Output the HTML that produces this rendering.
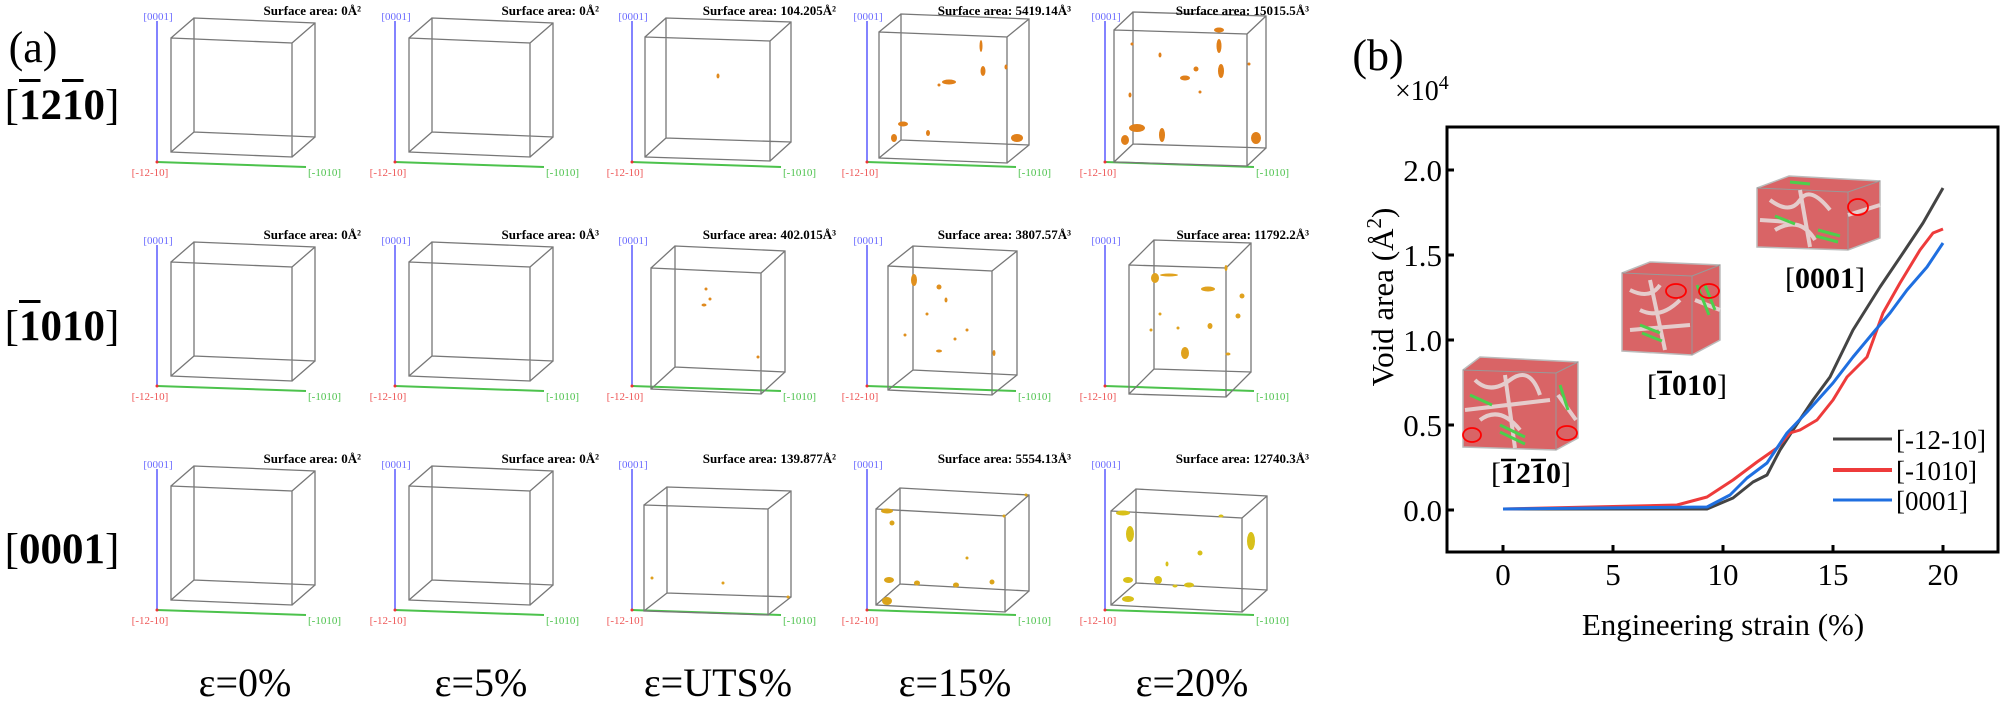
<!DOCTYPE html>
<html><head><meta charset="utf-8"><style>
html,body{margin:0;padding:0;background:#fff;}
#w{position:relative;width:2002px;height:703px;overflow:hidden;font-family:"Liberation Serif","DejaVu Serif",serif;}
.rl{position:absolute;left:0;width:124px;text-align:center;font-family:"Liberation Serif",serif;font-weight:bold;font-size:43px;line-height:43px;}
.rl .b{font-weight:normal}
.ov{text-decoration:overline;text-decoration-thickness:3px}
svg{position:absolute;left:0;top:0;}
text,tspan{font-family:"Liberation Serif","DejaVu Serif",serif !important;}
</style></head><body><div id="w">
<svg width="2002" height="703" viewBox="0 0 2002 703" style="font-family:'Liberation Serif','DejaVu Serif',serif" font-family="'Liberation Serif', 'DejaVu Serif', serif">
<defs>
<g id="ax">
<line x1="0" y1="21" x2="0" y2="162" stroke="#5a5aff" stroke-width="1.5"/>
<line x1="0" y1="162" x2="149" y2="167" stroke="#4cc24c" stroke-width="2"/>
<circle cx="0" cy="162" r="1.5" fill="#e33"/>
<text x="1" y="20" font-size="11" fill="#6a6aff" text-anchor="middle">[0001]</text>
<text x="-7" y="176" font-size="11" fill="#ee5555" text-anchor="middle">[-12-10]</text>
<text x="151" y="176" font-size="11" fill="#4cc24c">[-1010]</text>
</g>
<g id="cD" fill="none" stroke="#777" stroke-width="1.3"><path d="M14 38L135 43L135 157L14 152Z M37 18L158 23L158 137L37 132Z M14 38l23 -20M135 43l23 -20M135 157l23 -20M14 152l23 -20"/></g>
</defs>
<text x="33" y="62" font-size="44" text-anchor="middle">(a)</text>

<!-- row 1 -->
<g transform="translate(157,0)"><use href="#ax"/><use href="#cD"/><text x="204" y="15" font-size="13" font-weight="bold" text-anchor="end">Surface area: 0Å²</text></g>
<g transform="translate(395,0)"><use href="#ax"/><use href="#cD"/><text x="204" y="15" font-size="13" font-weight="bold" text-anchor="end">Surface area: 0Å²</text></g>
<g transform="translate(632,0)"><use href="#ax"/>
<path fill="none" stroke="#777" stroke-width="1.3" d="M13 37L138 41L138 161L13 157Z M34 18L159 22L159 142L34 138Z M13 37l21 -19M138 41l21 -19M138 161l21 -19M13 157l21 -19"/>
<ellipse cx="86" cy="76" rx="1.5" ry="2.5" fill="#e08a1e"/>
<text x="204" y="15" font-size="13" font-weight="bold" text-anchor="end">Surface area: 104.205Å²</text></g>
<g transform="translate(867,0)"><use href="#ax"/>
<path fill="none" stroke="#777" stroke-width="1.3" d="M12 32L140 37L140 163L12 158Z M34 14L162 19L162 145L34 140Z M12 32l22 -18M140 37l22 -18M140 163l22 -18M12 158l22 -18"/>
<g fill="#e0801a"><ellipse cx="82" cy="82" rx="7" ry="2.5"/><ellipse cx="114" cy="46" rx="1.5" ry="6"/><ellipse cx="116" cy="71" rx="2.5" ry="5"/><ellipse cx="36" cy="124" rx="5" ry="2.5"/><ellipse cx="27" cy="138" rx="3" ry="4"/><ellipse cx="150" cy="138" rx="6" ry="4"/><ellipse cx="139" cy="67" rx="1.5" ry="2.5"/><ellipse cx="61" cy="133" rx="2" ry="3"/><ellipse cx="72" cy="85" rx="1.5" ry="1.5"/></g>
<text x="204" y="15" font-size="13" font-weight="bold" text-anchor="end">Surface area: 5419.14Å³</text></g>
<g transform="translate(1105,0)"><use href="#ax"/>
<path fill="none" stroke="#777" stroke-width="1.3" d="M9 30L142 34L142 166L9 162Z M28 12L161 16L161 148L28 144Z M9 30l19 -18M142 34l19 -18M142 166l19 -18M9 162l19 -18"/>
<g fill="#e0801a"><ellipse cx="114" cy="30" rx="5" ry="2.5"/><ellipse cx="114" cy="46" rx="2.5" ry="7"/><ellipse cx="116" cy="71" rx="3" ry="7"/><ellipse cx="80" cy="78" rx="5" ry="2.5"/><ellipse cx="91" cy="69" rx="2.5" ry="2.5"/><ellipse cx="32" cy="128" rx="8" ry="4"/><ellipse cx="20" cy="140" rx="4" ry="5"/><ellipse cx="57" cy="135" rx="3" ry="7"/><ellipse cx="151" cy="138" rx="5" ry="6"/><ellipse cx="27" cy="44" rx="1.5" ry="1.5"/><ellipse cx="55" cy="55" rx="1.5" ry="2.5"/><ellipse cx="144" cy="64" rx="1.5" ry="1.5"/><ellipse cx="25" cy="95" rx="1.5" ry="2.5"/><ellipse cx="95" cy="92" rx="1.5" ry="1.5"/></g>
<text x="204" y="15" font-size="13" font-weight="bold" text-anchor="end">Surface area: 15015.5Å³</text></g>

<!-- row 2 -->
<g transform="translate(157,224)"><use href="#ax"/><use href="#cD"/><text x="204" y="15" font-size="13" font-weight="bold" text-anchor="end">Surface area: 0Å²</text></g>
<g transform="translate(395,224)"><use href="#ax"/><use href="#cD"/><text x="204" y="15" font-size="13" font-weight="bold" text-anchor="end">Surface area: 0Å³</text></g>
<g transform="translate(632,224)"><use href="#ax"/>
<path fill="none" stroke="#777" stroke-width="1.3" d="M19 44L129 49L129 170L19 165Z M43 22L153 27L153 148L43 143Z M19 44l24 -22M129 49l24 -22M129 170l24 -22M19 165l24 -22"/>
<g fill="#e08a1e"><ellipse cx="72" cy="81" rx="2.5" ry="1.5"/><ellipse cx="74" cy="65" rx="1.5" ry="1.5"/><ellipse cx="78" cy="75" rx="1.5" ry="1.5"/><ellipse cx="126" cy="133" rx="1.5" ry="1.5"/></g>
<text x="204" y="15" font-size="13" font-weight="bold" text-anchor="end">Surface area: 402.015Å³</text></g>
<g transform="translate(867,224)"><use href="#ax"/>
<path fill="none" stroke="#777" stroke-width="1.3" d="M21 42L125 47L125 171L21 166Z M46 22L150 27L150 151L46 146Z M21 42l25 -20M125 47l25 -20M125 171l25 -20M21 166l25 -20"/>
<g fill="#e0901e"><ellipse cx="47" cy="56" rx="3" ry="6"/><ellipse cx="72" cy="63" rx="2.5" ry="2.5"/><ellipse cx="79" cy="76" rx="1.5" ry="2.5"/><ellipse cx="72" cy="127" rx="3" ry="1.5"/><ellipse cx="127" cy="129" rx="1.5" ry="3"/><ellipse cx="38" cy="111" rx="1.5" ry="1.5"/><ellipse cx="100" cy="106" rx="1.5" ry="1.5"/><ellipse cx="60" cy="90" rx="1.5" ry="1.5"/><ellipse cx="88" cy="115" rx="1.5" ry="1.5"/></g>
<text x="204" y="15" font-size="13" font-weight="bold" text-anchor="end">Surface area: 3807.57Å³</text></g>
<g transform="translate(1105,224)"><use href="#ax"/>
<path fill="none" stroke="#777" stroke-width="1.3" d="M24 41L121 44L121 173L24 170Z M49 16L146 19L146 148L49 145Z M24 41l25 -25M121 44l25 -25M121 173l25 -25M24 170l25 -25"/>
<g fill="#e0a21e"><ellipse cx="50" cy="54" rx="4" ry="5"/><ellipse cx="64" cy="51" rx="9" ry="1.5"/><ellipse cx="103" cy="65" rx="7" ry="2.5"/><ellipse cx="105" cy="102" rx="2.5" ry="3"/><ellipse cx="80" cy="129" rx="4" ry="6"/><ellipse cx="137" cy="72" rx="2.5" ry="2.5"/><ellipse cx="133" cy="92" rx="2.5" ry="2.5"/><ellipse cx="121" cy="44" rx="1.5" ry="3"/><ellipse cx="46" cy="106" rx="1.5" ry="1.5"/><ellipse cx="73" cy="104" rx="1.5" ry="1.5"/><ellipse cx="123" cy="130" rx="2.5" ry="1.5"/><ellipse cx="55" cy="90" rx="1.5" ry="1.5"/></g>
<text x="204" y="15" font-size="13" font-weight="bold" text-anchor="end">Surface area: 11792.2Å³</text></g>

<!-- row 3 -->
<g transform="translate(157,448)"><use href="#ax"/><use href="#cD"/><text x="204" y="15" font-size="13" font-weight="bold" text-anchor="end">Surface area: 0Å²</text></g>
<g transform="translate(395,448)"><use href="#ax"/><use href="#cD"/><text x="204" y="15" font-size="13" font-weight="bold" text-anchor="end">Surface area: 0Å²</text></g>
<g transform="translate(632,448)"><use href="#ax"/>
<path fill="none" stroke="#777" stroke-width="1.3" d="M12 57L136 61L136 167L12 163Z M35 39L159 43L159 149L35 145Z M12 57l23 -18M136 61l23 -18M136 167l23 -18M12 163l23 -18"/>
<g fill="#e0a01e"><ellipse cx="20" cy="130" rx="1.5" ry="1.5"/><ellipse cx="91" cy="135" rx="1.5" ry="1.5"/><ellipse cx="156" cy="149" rx="1.5" ry="1.5"/></g>
<text x="204" y="15" font-size="13" font-weight="bold" text-anchor="end">Surface area: 139.877Å²</text></g>
<g transform="translate(867,448)"><use href="#ax"/>
<path fill="none" stroke="#777" stroke-width="1.3" d="M9 61L138 68L138 164L9 157Z M33 40L162 47L162 143L33 136Z M9 61l24 -21M138 68l24 -21M138 164l24 -21M9 157l24 -21"/>
<g fill="#dba41a"><ellipse cx="20" cy="63" rx="6" ry="2.5"/><ellipse cx="22" cy="132" rx="5" ry="3"/><ellipse cx="20" cy="153" rx="5" ry="4"/><ellipse cx="50" cy="135" rx="3" ry="2.5"/><ellipse cx="89" cy="137" rx="3" ry="2.5"/><ellipse cx="125" cy="134" rx="2.5" ry="2.5"/><ellipse cx="137" cy="68" rx="1.5" ry="1.5"/><ellipse cx="159" cy="47" rx="1.5" ry="1.5"/><ellipse cx="25" cy="75" rx="2.5" ry="2.5"/><ellipse cx="100" cy="110" rx="1.5" ry="1.5"/></g>
<text x="204" y="15" font-size="13" font-weight="bold" text-anchor="end">Surface area: 5554.13Å³</text></g>
<g transform="translate(1105,448)"><use href="#ax"/>
<path fill="none" stroke="#777" stroke-width="1.3" d="M6 63L137 70L137 164L6 157Z M31 41L162 48L162 142L31 135Z M6 63l25 -22M137 70l25 -22M137 164l25 -22M6 157l25 -22"/>
<g fill="#d8c01a"><ellipse cx="25" cy="86" rx="4" ry="8"/><ellipse cx="18" cy="65" rx="7" ry="2.5"/><ellipse cx="146" cy="93" rx="4" ry="9"/><ellipse cx="23" cy="132" rx="5" ry="3"/><ellipse cx="23" cy="151" rx="6" ry="3"/><ellipse cx="53" cy="132" rx="4" ry="4"/><ellipse cx="84" cy="137" rx="5" ry="2.5"/><ellipse cx="62" cy="116" rx="1.5" ry="2.5"/><ellipse cx="116" cy="68" rx="2.5" ry="1.5"/><ellipse cx="95" cy="105" rx="2.5" ry="2.5"/><ellipse cx="70" cy="138" rx="2.5" ry="1.5"/></g>
<text x="204" y="15" font-size="13" font-weight="bold" text-anchor="end">Surface area: 12740.3Å³</text></g>

<!-- bottom labels -->
<g font-size="40" text-anchor="middle">
<text x="245" y="696">ε=0%</text><text x="481" y="696">ε=5%</text><text x="718" y="696">ε=UTS%</text><text x="955" y="696">ε=15%</text><text x="1192" y="696">ε=20%</text>
</g>

<!-- panel b -->
<text x="1378" y="70" font-size="44" text-anchor="middle">(b)</text>
<text x="1395" y="100" font-size="28">×10<tspan font-size="20" dy="-11">4</tspan></text>
<text transform="translate(1393,297) rotate(-90)" font-size="31" text-anchor="middle">Void area (Å<tspan font-size="21" dy="-12">2</tspan><tspan dy="12">)</tspan></text>
<rect x="1447" y="127" width="551" height="425" fill="none" stroke="#000" stroke-width="3"/>
<g stroke="#000" stroke-width="3">
<line x1="1447" y1="170" x2="1454" y2="170"/><line x1="1447" y1="255" x2="1454" y2="255"/><line x1="1447" y1="340" x2="1454" y2="340"/><line x1="1447" y1="425" x2="1454" y2="425"/><line x1="1447" y1="510" x2="1454" y2="510"/>
<line x1="1503" y1="552" x2="1503" y2="545"/><line x1="1613" y1="552" x2="1613" y2="545"/><line x1="1723" y1="552" x2="1723" y2="545"/><line x1="1833" y1="552" x2="1833" y2="545"/><line x1="1943" y1="552" x2="1943" y2="545"/>
</g>
<g font-size="31" text-anchor="end">
<text x="1442" y="181">2.0</text><text x="1442" y="266">1.5</text><text x="1442" y="351">1.0</text><text x="1442" y="436">0.5</text><text x="1442" y="521">0.0</text>
</g>
<g font-size="31" text-anchor="middle">
<text x="1503" y="585">0</text><text x="1613" y="585">5</text><text x="1723" y="585">10</text><text x="1833" y="585">15</text><text x="1943" y="585">20</text>
<text x="1723" y="635">Engineering strain (%)</text>
</g>

<!-- insets -->
<g>
<polygon points="1757,188 1789,176 1880,181 1880,238 1848,250 1757,247" fill="#d96466" stroke="#bbb" stroke-width="1.5"/>
<polyline points="1757,188 1848,192 1880,181" fill="none" stroke="#999"/>
<line x1="1848" y1="192" x2="1848" y2="250" stroke="#999"/>
<path d="M1770 200 Q1790 215 1800 200 T1830 210 M1775 230 Q1800 215 1815 240 M1800 190 L1810 247 M1848 215 L1880 205 M1760 220 L1790 222" stroke="#e6dede" stroke-width="4" fill="none" opacity="0.85"/>
<path d="M1775 216 l20 8 M1818 230 l22 6 M1816 236 l22 6 M1790 182 l20 2" stroke="#4ccf4c" stroke-width="3"/>
<ellipse cx="1858" cy="207" rx="10" ry="8" fill="none" stroke="#f00" stroke-width="1.8"/>

<polygon points="1622,273 1650,262 1720,265 1720,340 1692,355 1622,351" fill="#d96466" stroke="#bbb" stroke-width="1.5"/>
<line x1="1622" y1="273" x2="1692" y2="276" stroke="#999"/><line x1="1692" y1="276" x2="1720" y2="265" stroke="#999"/><line x1="1692" y1="276" x2="1692" y2="355" stroke="#999"/>
<path d="M1630 290 Q1650 300 1660 285 M1640 310 Q1660 320 1680 300 M1650 280 L1665 350 M1630 330 L1690 325 M1695 300 L1720 310" stroke="#e6dede" stroke-width="4" fill="none" opacity="0.85"/>
<path d="M1640 325 l20 8 M1642 333 l20 8 M1697 285 l12 30 M1705 285 l10 25" stroke="#4ccf4c" stroke-width="3"/>
<ellipse cx="1676" cy="291" rx="10" ry="7" fill="none" stroke="#f00" stroke-width="1.8"/>
<ellipse cx="1709" cy="291" rx="10" ry="7" fill="none" stroke="#f00" stroke-width="1.8"/>

<polygon points="1463,370 1480,357 1578,362 1578,438 1556,450 1463,447" fill="#d96466" stroke="#bbb" stroke-width="1.5"/>
<line x1="1463" y1="370" x2="1556" y2="373" stroke="#999"/><line x1="1556" y1="373" x2="1578" y2="362" stroke="#999"/><line x1="1556" y1="373" x2="1556" y2="450" stroke="#999"/>
<path d="M1475 380 Q1490 395 1510 380 T1540 395 M1480 420 Q1500 405 1520 430 M1505 375 L1515 448 M1465 410 L1550 400 M1558 395 L1576 420" stroke="#e6dede" stroke-width="4" fill="none" opacity="0.85"/>
<path d="M1470 395 l22 10 M1500 425 l25 12 M1500 432 l25 12 M1560 385 l8 25" stroke="#4ccf4c" stroke-width="3"/>
<ellipse cx="1472" cy="435" rx="9" ry="7" fill="none" stroke="#f00" stroke-width="1.8"/>
<ellipse cx="1567" cy="433" rx="10" ry="7" fill="none" stroke="#f00" stroke-width="1.8"/>
</g>
<g font-size="30" text-anchor="middle">
<text x="1825" y="288">[<tspan font-weight="bold">0001</tspan>]</text>
<text x="1687" y="395">[<tspan font-weight="bold">1010</tspan>]</text>
<text x="1531" y="483">[<tspan font-weight="bold">1210</tspan>]</text>
</g>
<g stroke="#000" stroke-width="2.5">
<line x1="1657" y1="372" x2="1672" y2="372"/>
<line x1="1501" y1="460" x2="1516" y2="460"/>
<line x1="1531" y1="460" x2="1546" y2="460"/>
</g>

<!-- curves -->
<g fill="none" stroke-width="3" stroke-linejoin="round">
<polyline stroke="#444" points="1503,509 1707,509 1733,498 1753,482 1767,475 1780,450 1793,430 1813,400 1830,377 1853,330 1880,287 1903,253 1923,223 1943,188"/>
<polyline stroke="#ee3b3b" points="1503,509 1677,505 1707,497 1733,480 1757,462 1777,448 1790,433 1800,430 1817,420 1833,400 1847,377 1867,357 1883,313 1900,283 1920,250 1933,233 1943,229"/>
<polyline stroke="#1f6fe0" points="1503,509 1707,507 1730,495 1747,478 1767,463 1787,433 1807,412 1833,383 1853,357 1873,333 1890,313 1907,290 1927,267 1943,243"/>
<line x1="1833" y1="439" x2="1892" y2="439" stroke="#444"/>
<line x1="1833" y1="470" x2="1892" y2="470" stroke="#ee3b3b" stroke-width="4"/>
<line x1="1833" y1="500" x2="1892" y2="500" stroke="#1f6fe0"/>
</g>
<g font-size="27"><text x="1896" y="449">[-12-10]</text><text x="1896" y="480">[-1010]</text><text x="1896" y="510">[0001]</text></g>
</svg>
<div class="rl" style="top:84px"><span class="b">[</span><span class="ov">1</span>2<span class="ov">1</span>0<span class="b">]</span></div>
<div class="rl" style="top:305px"><span class="b">[</span><span class="ov">1</span>010<span class="b">]</span></div>
<div class="rl" style="top:528px"><span class="b">[</span>0001<span class="b">]</span></div>
</div></body></html>
